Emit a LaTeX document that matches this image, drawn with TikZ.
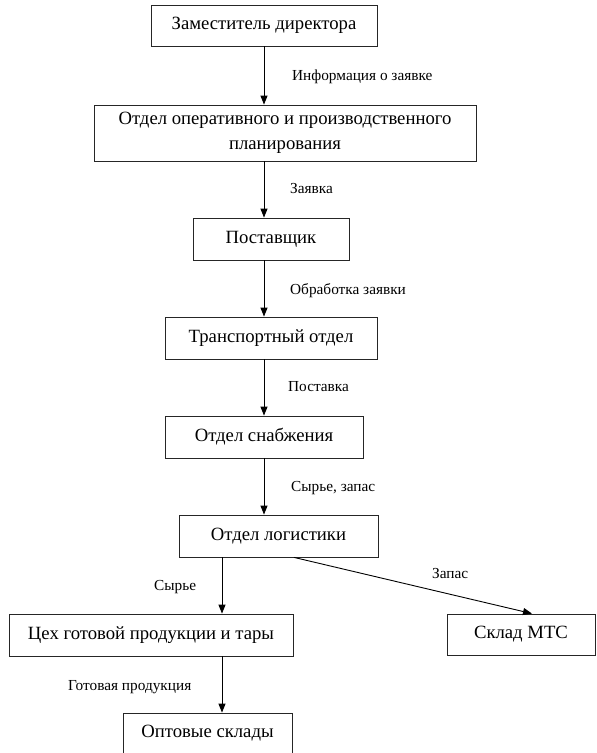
\documentclass[tikz,border=0pt]{standalone}
\usepackage{fontspec}
\setmainfont{Liberation Serif}
\usetikzlibrary{arrows.meta}
\begin{document}
\begin{tikzpicture}[x=1pt,y=-1pt,
  box/.style={draw=black!85, line width=0.8pt, inner sep=0pt, align=center,
    font=\fontsize{18.7}{25}\selectfont},
  lbl/.style={anchor=west, inner sep=0pt, font=\fontsize{15.3}{17}\selectfont},
  arr/.style={line width=0.9pt, -{Triangle[length=9pt,width=7pt]}}]
\useasboundingbox (0,0) rectangle (597,753);
\node[box, minimum width=226pt, minimum height=41pt] (z) at (264,25.5) {Заместитель директора};
\node[box, minimum width=382pt, minimum height=56pt] (op) at (285,133) {Отдел оперативного и производственного\\планирования};
\node[box, minimum width=156pt, minimum height=42pt] (post) at (271,239) {Поставщик};
\node[box, minimum width=212pt, minimum height=42pt] (tr) at (271,338) {Транспортный отдел};
\node[box, minimum width=198pt, minimum height=42pt] (sn) at (264,437) {Отдел снабжения};
\node[box, minimum width=199pt, minimum height=42pt] (lg) at (278.5,536) {Отдел логистики};
\node[box, minimum width=284pt, minimum height=42pt] (ceh) at (151,635) {Цех готовой продукции и тары};
\node[box, minimum width=148pt, minimum height=41pt] (mts) at (521,634.5) {Склад МТС};
\node[box, minimum width=169pt, minimum height=41pt] (opt) at (207.5,733.5) {Оптовые склады};
\coordinate (mx) at (264,0);
\coordinate (cx) at (222,0);
\coordinate (dx) at (294,0);
\coordinate (tx) at (532,0);
\draw[arr] (z.south -| mx) -- (op.north -| mx);
\draw[arr] (op.south -| mx) -- (post.north -| mx);
\draw[arr] (post.south -| mx) -- (tr.north -| mx);
\draw[arr] (tr.south -| mx) -- (sn.north -| mx);
\draw[arr] (sn.south -| mx) -- (lg.north -| mx);
\draw[arr] (lg.south -| cx) -- (ceh.north -| cx);
\draw[arr] (lg.south -| dx) -- (mts.north -| tx);
\draw[arr] (ceh.south -| cx) -- (opt.north -| cx);
\node[lbl] (l1) at (292,77) {Информация о заявке};
\node[lbl] (l2) at (290,189) {Заявка};
\node[lbl] (l3) at (290,291) {Обработка заявки};
\node[lbl] (l4) at (288,387) {Поставка};
\node[lbl] (l5) at (291,488) {Сырье, запас};
\node[lbl] (l6) at (432,573) {Запас};
\node[lbl] (l7) at (154,587) {Сырье};
\node[lbl] (l8) at (68,687) {Готовая продукция};
\end{tikzpicture}
\end{document}
